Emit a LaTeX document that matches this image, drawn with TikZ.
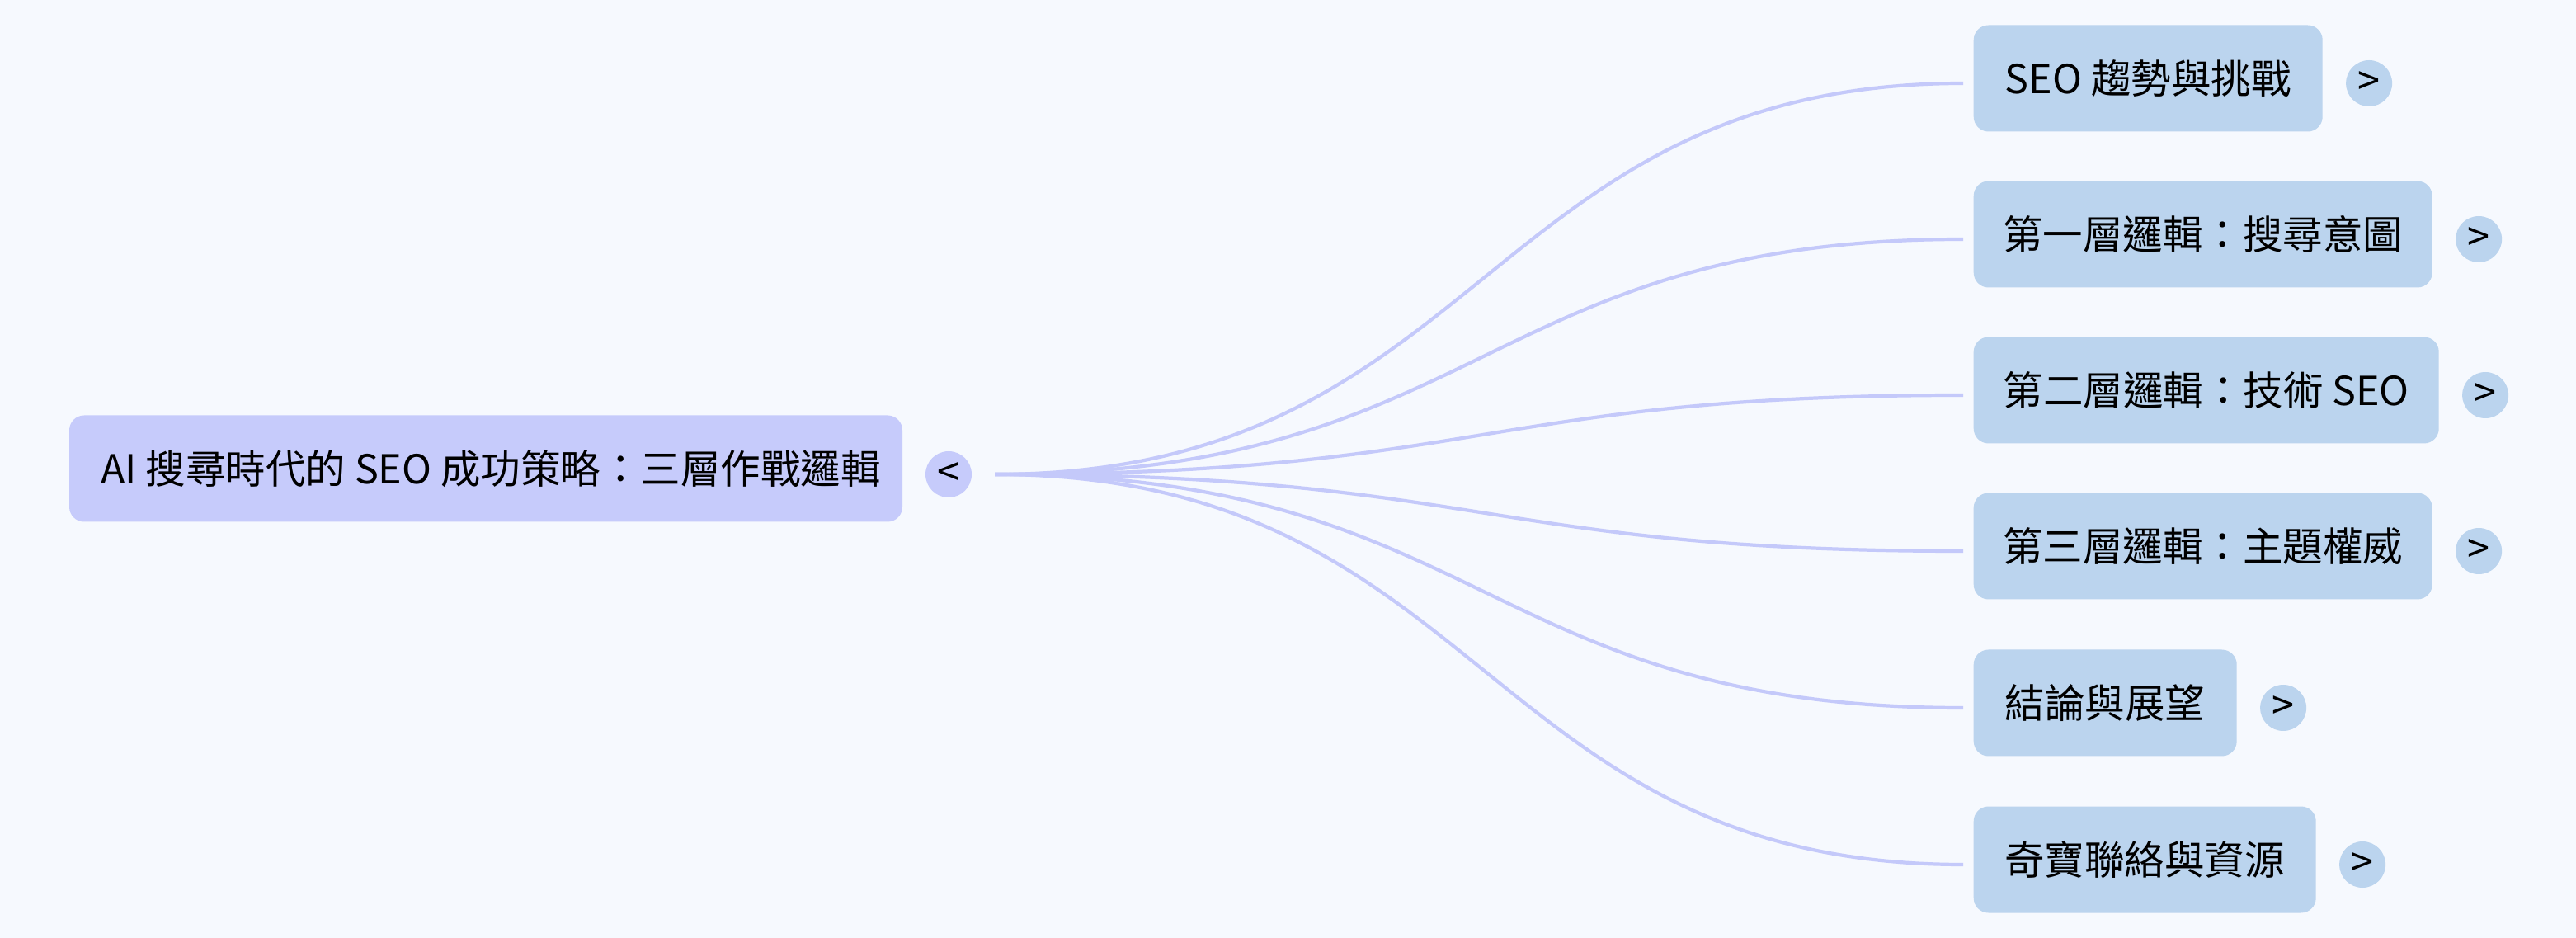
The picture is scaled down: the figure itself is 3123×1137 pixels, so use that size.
\documentclass[tikz,border=0pt]{standalone}
\usepackage{fontspec}
\setmainfont{Noto Sans CJK TC}
\usetikzlibrary{positioning}
\usetikzlibrary{calc}
\definecolor{bgcol}{HTML}{F6F9FE}
\definecolor{rootcol}{HTML}{C6CBFB}
\definecolor{subcol}{HTML}{BBD4EE}
\definecolor{linkcol}{HTML}{C4C9FA}
\tikzset{%
    topic/.style={rounded corners=1.8mm, inner sep=0mm, minimum height=12.9mm,
        font=\fontsize{13.8pt}{16pt}\selectfont},
    toggle/.style={circle, inner sep=0mm, minimum size=5.6mm,
        font=\fontsize{13.8pt}{16pt}\selectfont},
    link/.style={draw=linkcol, line width=1.2pt},
}

\begin{document}
\begin{tikzpicture}[x=0.1mm,y=-0.1mm]
\fill [bgcol] (0,0) rectangle (3123,1137);
\node (ai) [topic, fill=rootcol, minimum width=101mm] at (589,568) {\hspace{1.2mm}AI 搜尋時代的 SEO 成功策略：三層作戰邏輯};
\node (ait) [toggle, fill=rootcol] at (1150,575) {<};
\coordinate (hub) at (1206,575);
\node (s1) [topic, fill=subcol, anchor=west, minimum width=42.3mm] at (2392,95) {SEO 趨勢與挑戰};
\node (s2) [topic, fill=subcol, anchor=west, minimum width=55.6mm] at (2392,284) {第一層邏輯：搜尋意圖};
\node (s3) [topic, fill=subcol, anchor=west, minimum width=56.4mm] at (2392,473) {第二層邏輯：技術 SEO};
\node (s4) [topic, fill=subcol, anchor=west, minimum width=55.6mm] at (2392,662) {第三層邏輯：主題權威};
\node (s5) [topic, fill=subcol, anchor=west, minimum width=31.9mm] at (2392,852) {結論與展望};
\node (s6) [topic, fill=subcol, anchor=west, minimum width=41.5mm] at (2392,1042) {奇寶聯絡與資源};
\foreach \i in {1,...,6}
    \node (t\i) [toggle, fill=subcol, right=2.7mm of s\i, yshift=-0.6mm] {>};
\coordinate (mid) at ($(hub)!0.5!(hub -| s1.west)$);
\foreach \i in {1,...,6}
    \draw [link, shorten >=1.2mm] (hub) .. controls (mid) and (mid |- t\i) .. (s\i.west |- t\i);
\end{tikzpicture}
\end{document}
